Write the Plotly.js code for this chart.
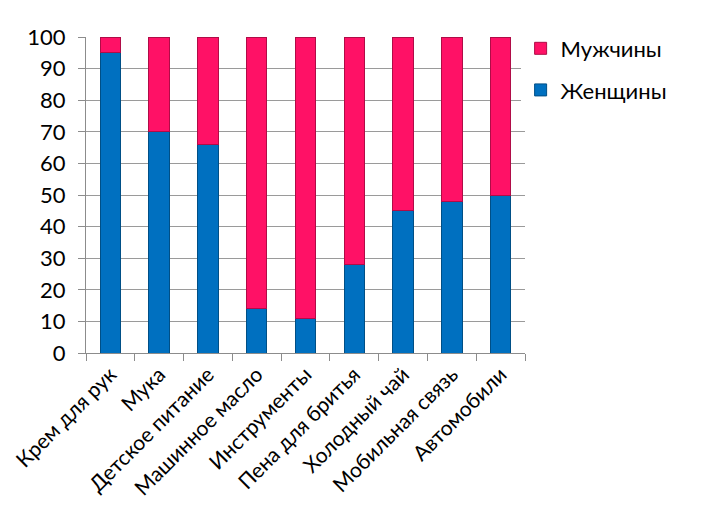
<!DOCTYPE html>
<html>
<head>
<meta charset="utf-8">
<script src="https://cdn.plot.ly/plotly-3.0.1.min.js"></script>
<style>
  html, body { margin: 0; padding: 0; background: #fff; }
  #chart { width: 708px; height: 531px; }
</style>
</head>
<body>
<div id="chart"></div>
<script>
const categories = ['Крем для рук', 'Мука', 'Детское питание', 'Машинное масло',
  'Инструменты', 'Пена для бритья', 'Холодный чай', 'Мобильная связь', 'Автомобили'];
const women = [95, 70, 66, 14, 11, 28, 45, 48, 50];
const men = [5, 30, 34, 86, 89, 72, 55, 52, 50];
const yTicks = [0, 10, 20, 30, 40, 50, 60, 70, 80, 90, 100];

const fontFamily = 'Lato, "Open Sans", sans-serif';

const traces = [
  {
    x: categories,
    y: women,
    type: 'bar',
    name: 'Женщины',
    legendgroup: 'w',
    legendrank: 2,
    marker: { color: '#0070C0', line: { color: '#004F86', width: 1 } }
  },
  {
    x: categories,
    y: men,
    type: 'bar',
    name: 'Мужчины',
    legendgroup: 'm',
    legendrank: 1,
    marker: { color: '#FF1166', line: { color: '#B00C47', width: 1 } }
  }
];

const layout = {
  width: 708,
  height: 531,
  margin: { l: 86, r: 183, t: 37, b: 178 },
  paper_bgcolor: '#ffffff',
  plot_bgcolor: '#ffffff',
  barmode: 'stack',
  bargap: 0.58,
  showlegend: true,
  legend: {
    x: 0.99, y: 1.03, xanchor: 'left', yanchor: 'top',
    traceorder: 'grouped',
    font: { family: fontFamily, size: 22, color: '#000' },
    itemwidth: 30,
    tracegroupgap: 10
  },
  font: { family: fontFamily, size: 21, color: '#000' },
  xaxis: {
    tickangle: -45,
    showline: true,
    linecolor: '#8c8c8c',
    ticks: 'outside',
    ticklen: 7,
    tickcolor: '#8c8c8c',
    tickson: 'boundaries',
    tickfont: { family: fontFamily, size: 21, color: '#000' },
    showgrid: false
  },
  yaxis: {
    range: [0, 100],
    tickvals: yTicks,
    ticktext: yTicks.map(String),
    showline: true,
    linecolor: '#8c8c8c',
    ticks: 'outside',
    ticklen: 7,
    tickcolor: '#8c8c8c',
    ticklabelstandoff: 8,
    showgrid: true,
    gridcolor: '#9a9a9a',
    gridwidth: 1,
    zeroline: false,
    tickfont: { family: fontFamily, size: 22, color: '#000' }
  }
};

Plotly.newPlot('chart', traces, layout, { displayModeBar: false, staticPlot: true });
</script>
</body>
</html>
